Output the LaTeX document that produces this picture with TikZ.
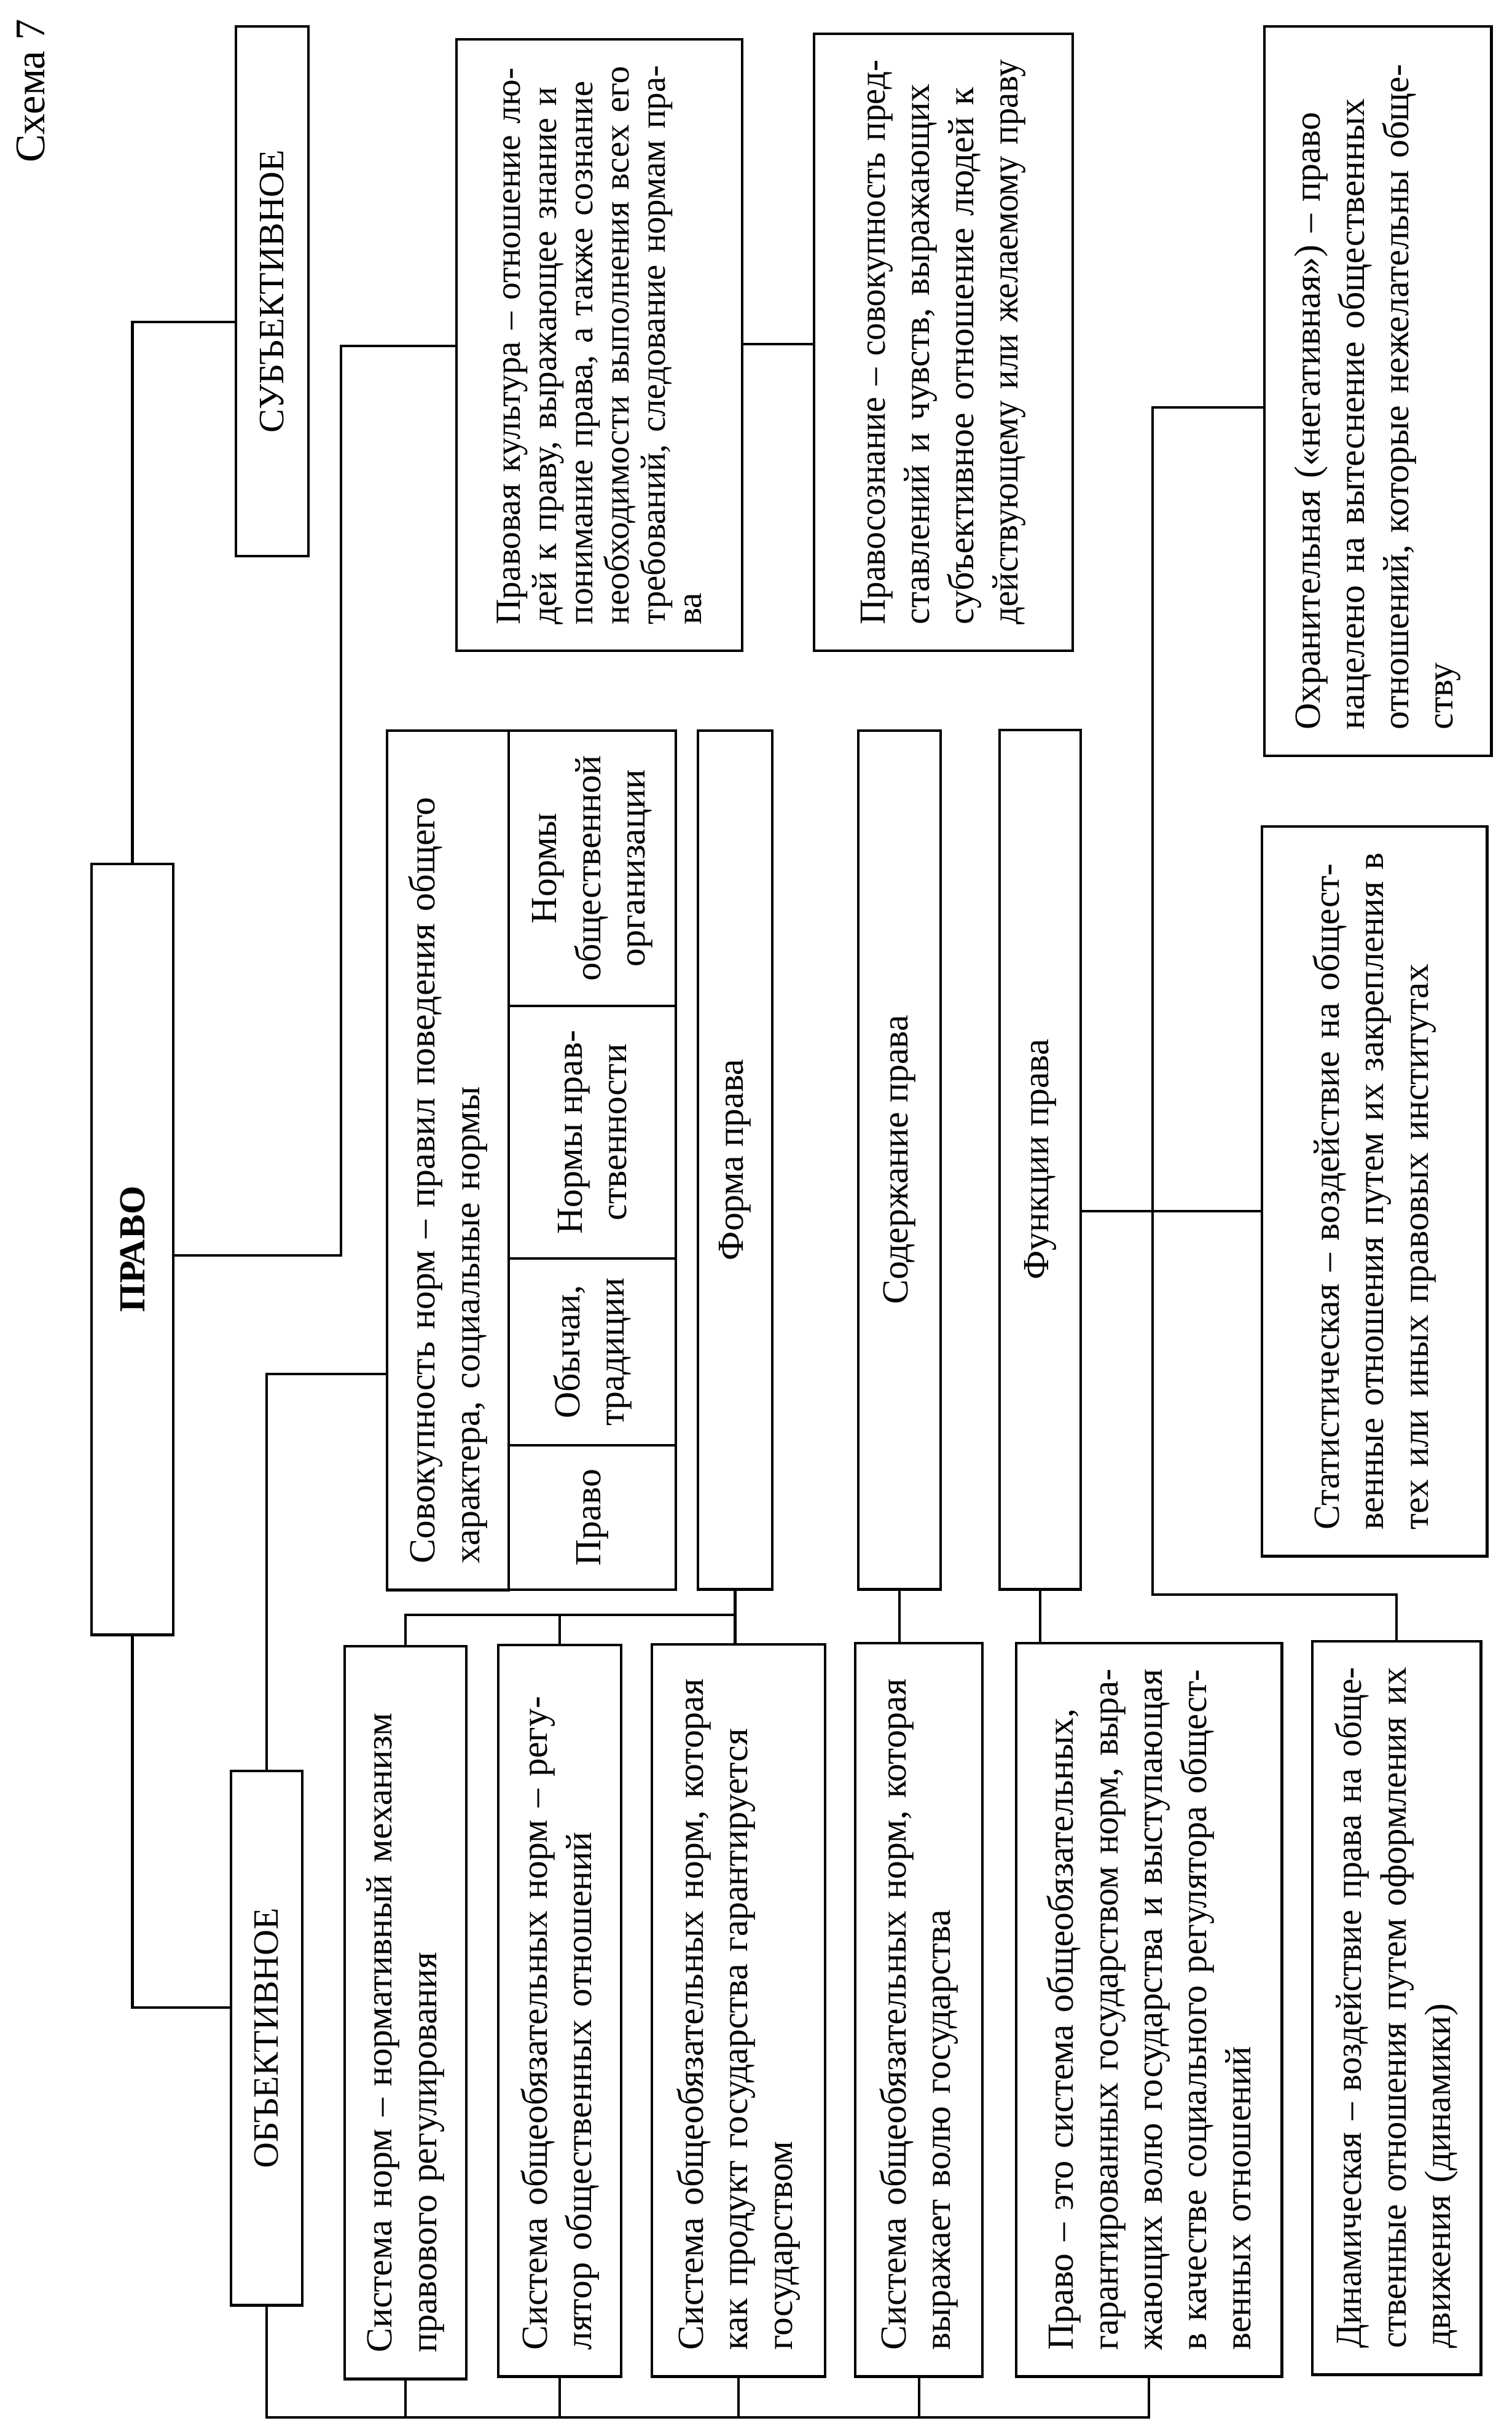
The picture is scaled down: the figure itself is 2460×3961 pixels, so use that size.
\documentclass[tikz,border=0pt]{standalone}
\usepackage{fontspec}
\setmainfont{Liberation Serif}
\usepackage{graphicx}
\tolerance=10000 \hbadness=10000 \hfuzz=50pt
\newsavebox\Jbox
\newcommand\J[1]{\sbox\Jbox{#1}\ifdim\wd\Jbox>\linewidth\resizebox{\linewidth}{\height}{\usebox\Jbox}\else\makebox[\linewidth][s]{#1}\fi}
\newcommand\bodyfont{\fontsize{17pt}{20.5pt}\selectfont}
\newcommand\RBox[7][]{%
 \pgfmathsetmacro\rcx{(#3+#5)/2}%
 \pgfmathsetmacro\rcy{(#4+#6)/2}%
 \pgfmathsetmacro\rlen{(#6-#4)*0.01}%
 \pgfmathsetmacro\rwid{(#5-#3)*0.01}%
 \pgfmathsetmacro\rtw{(#6-#4)*0.01-0.85}%
 \node[bx,minimum width=\rlen cm,minimum height=\rwid cm,#1] (#2) at (\rcx,\rcy) {#7};}
\begin{document}
\begin{tikzpicture}[x=0.01cm,y=-0.01cm,
  bx/.style={draw,line width=1.4pt,rotate=90,inner sep=0pt,font=\bodyfont},
  jt/.style={text width=\rtw cm,align=left},
  hd/.style={font=\fontsize{16.5pt}{20pt}\selectfont},
  hdb/.style={font=\fontsize{17pt}{20pt}\selectfont\bfseries},
  ce/.style={align=center},
  ln/.style={line width=1.15pt}]
\fill[white] (0,0) rectangle (2460,3961);
\useasboundingbox (0,0) rectangle (2460,3961);
\node[rotate=90,inner sep=0pt,font=\fontsize{19.5pt}{22pt}\selectfont] (title) at (50,148) {Схема 7};
% headings
\RBox[hd]{subj}{384}{43}{502}{905}{СУБЪЕКТИВНОЕ}
\RBox[hdb]{prav}{149}{1406}{282}{2660}{ПРАВО}
\RBox[hd]{obj}{376}{2882}{492}{3751}{ОБЪЕКТИВНОЕ}
% upper right boxes
\RBox[jt,font=\fontsize{16.3pt}{16.8pt}\selectfont]{kult}{743}{64}{1208}{1059}{\J{Правовая культура – отношение лю-}\\\J{дей к праву, выражающее знание и}\\\J{понимание права, а также сознание}\\\J{необходимости выполнения всех его}\\\J{требований, следование нормам пра-}\\ва}
\RBox[jt]{soz}{1325}{55}{1746}{1059}{\J{Правосознание – совокупность пред-}\\\J{ставлений и чувств, выражающих}\\\J{субъективное отношение людей к}\\\J{действующему или желаемому праву}}
\RBox[jt]{ohr}{2058}{43}{2427}{1230}{\J{Охранительная («негативная») – право}\\\J{нацелено на вытеснение общественных}\\\J{отношений, которые нежелательны обще-}\\ству}
\RBox[jt]{stat}{2054}{1345}{2420}{2532}{\J{Статистическая – воздействие на общест-}\\\J{венные отношения путем их закрепления в}\\тех или иных правовых институтах}
% social norms block
\RBox[jt]{sovt}{630}{1189}{828}{2587}{\J{Совокупность норм – правил поведения общего}\\характера, социальные нормы}
\RBox[ce]{corg}{828}{1189}{1100}{1637}{Нормы\\общественной\\организации}
\RBox[ce]{cnrav}{828}{1637}{1100}{2048}{Нормы нрав-\\ственности}
\RBox[ce]{cob}{828}{2048}{1100}{2352}{Обычаи,\\традиции}
\RBox[ce]{cpr}{828}{2352}{1100}{2587}{Право}
% middle boxes
\RBox{forma}{1136}{1189}{1257}{2586}{Форма права}
\RBox{soder}{1397}{1189}{1531}{2586}{Содержание права}
\RBox{func}{1627}{1188}{1759}{2586}{Функции права}
% lower boxes
\RBox[jt]{b1}{561}{2679}{759}{3871}{\J{Система норм – нормативный механизм}\\правового регулирования}
\RBox[jt]{b2}{811}{2677}{1011}{3867}{\J{Система общеобязательных норм – регу-}\\лятор общественных отношений}
\RBox[jt]{b3}{1061}{2676}{1343}{3867}{\J{Система общеобязательных норм, которая}\\\J{как продукт государства гарантируется}\\государством}
\RBox[jt]{b4}{1392}{2674}{1599}{3867}{\J{Система общеобязательных норм, которая}\\выражает волю государства}
\RBox[jt]{b5}{1654}{2674}{2086}{3867}{\J{Право – это система общеобязательных,}\\\J{гарантированных государством норм, выра-}\\\J{жающих волю государства и выступающая}\\\J{в качестве социального регулятора общест-}\\венных отношений}
\RBox[jt]{dyn}{2136}{2671}{2410}{3864}{\J{Динамическая – воздействие права на обще-}\\\J{ственные отношения путем оформления их}\\движения (динамики)}
% connectors
\draw[ln] (prav.east) |- (subj.north |- 0,524);
\draw[ln] (prav.south |- 0,2043) -| (555,563) -- (kult.north |- 0,563);
\draw[ln] (kult.south |- 0,560) -- (soz.north |- 0,560);
\draw[ln] (prav.west) |- (obj.north |- 0,3267);
\draw[ln] (sovt.north |- 0,2236) -| (obj.east);
\draw[ln] (obj.west) |- (b5.west |- 0,3934) -- (b5.west);
\foreach \b in {b1,b2,b3,b4} \draw[ln] (\b.west) -- (\b.west |- 0,3934);
\draw[ln] (b1.east) -- (b1.east |- 0,2628) -- (forma.west |- 0,2628);
\draw[ln] (b2.east) -- (b2.east |- 0,2628);
\draw[ln] (forma.west) -- (forma.west |- b3.east);
\draw[ln] (soder.west) -- (soder.west |- b4.east);
\draw[ln] (func.west) -- (func.west |- b5.east);
\draw[ln] (func.south |- 0,1971) -- (stat.north |- 0,1971);
\draw[ln] (ohr.north |- 0,663) -| (1876,2595) -| (dyn.east);
\end{tikzpicture}
\end{document}
